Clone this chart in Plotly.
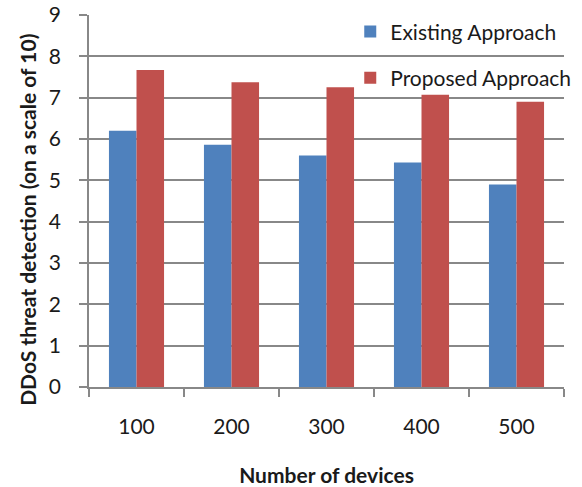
import plotly.graph_objects as go

categories = ["100", "200", "300", "400", "500"]
existing = [6.20, 5.86, 5.60, 5.43, 4.90]
proposed = [7.67, 7.37, 7.25, 7.07, 6.90]
y_ticks = [0, 1, 2, 3, 4, 5, 6, 7, 8, 9]

FONT = "Lato"
GRID = "#888888"
TXT = "#1a1a1a"

fig = go.Figure()
fig.add_trace(go.Bar(x=categories, y=existing, name="Existing Approach",
                     marker=dict(color="#4F81BD", line=dict(width=0)),
                     legendgroup="a"))
fig.add_trace(go.Bar(x=categories, y=proposed, name="Proposed Approach",
                     marker=dict(color="#C0504D", line=dict(width=0)),
                     legendgroup="b"))

fig.update_layout(
    width=582, height=487,
    margin=dict(l=89, r=18, t=15, b=100, autoexpand=False),
    paper_bgcolor="white", plot_bgcolor="white",
    barmode="group", bargap=0.42, bargroupgap=0,
    font=dict(family=FONT, size=21, color=TXT),
    showlegend=True,
    legend=dict(x=0.55, y=1.01, xanchor="left", yanchor="top",
                bgcolor="rgba(0,0,0,0)", font=dict(size=21, family=FONT, color=TXT),
                tracegroupgap=16, traceorder="grouped"),
    xaxis=dict(showgrid=False, showline=True, linecolor=GRID, linewidth=1.5,
               ticks="outside", ticklen=8, tickcolor=GRID, tickwidth=1.5,
               tickson="boundaries", tickfont=dict(size=21, family=FONT, color=TXT),
               ticklabelstandoff=20, automargin=False,
               title=dict(text="<b>Number of devices</b>",
                          font=dict(size=21, family=FONT, color=TXT), standoff=31)),
    yaxis=dict(range=[0, 9], tickvals=y_ticks, showgrid=True, gridcolor=GRID, gridwidth=1.5,
               showline=True, linecolor=GRID, linewidth=1.5, zeroline=False,
               ticks="outside", ticklen=8, tickcolor=GRID, tickwidth=1.5,
               tickfont=dict(size=21, family=FONT, color=TXT), ticklabelstandoff=14,
               automargin=False),
    annotations=[dict(text="<b>DDoS threat detection (on a scale of 10)</b>",
                      textangle=-90, xref="paper", yref="paper",
                      x=-0.13, y=0.45, xanchor="center", yanchor="middle",
                      showarrow=False, font=dict(size=21, family=FONT, color=TXT))],
)

fig.write_html("out.html")
